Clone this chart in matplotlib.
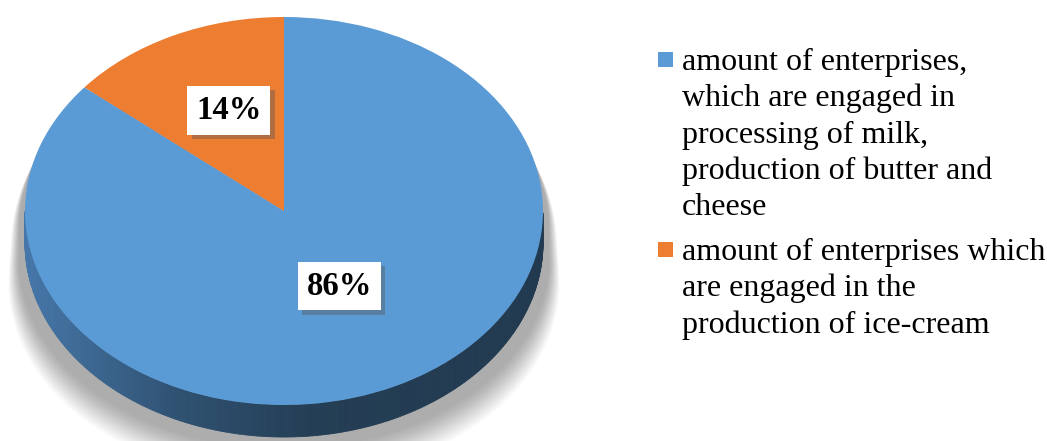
import numpy as np
import matplotlib.pyplot as plt
from matplotlib.patches import Polygon, Rectangle
from matplotlib.collections import PolyCollection
from matplotlib.colors import LinearSegmentedColormap
import matplotlib.patheffects as pe

# data
shares = [86, 14]
labels = ['amount of enterprises,\nwhich are engaged in\nprocessing of milk,\nproduction of butter and\ncheese',
          'amount of enterprises which\nare engaged in the\nproduction of ice-cream']
colors = ['#5B9BD5', '#ED7D31']
side_colors = [['#4677a9', '#2f5171', '#243e55', '#223a50'],
               ['#b5602a', '#8a4a20', '#6f3b19', '#6a3817']]

W, H = 1047, 441
fig = plt.figure(figsize=(W / 100, H / 100), dpi=100)

# top face of the pie: x -1..1 -> px 25..543, y -1..1 -> px 405..17
ax = fig.add_axes([25 / W, (H - 405) / H, 518 / W, 388 / H])
depth = 0.165  # thickness of the disc in y units


def outline(shift=0.0, grow=0.0, spread=0.0):
    # silhouette of the disc (top arc + lowered bottom arc), widened towards the bottom
    t1 = np.linspace(0, np.pi, 120)
    t2 = np.linspace(np.pi, 2 * np.pi, 120)
    x = np.concatenate([np.cos(t1), np.cos(t2)])
    y = np.concatenate([np.sin(t1), np.sin(t2) - depth])
    low = (1 - y) / 2.2
    xx = x * (1 + (spread + grow) * low)
    yy = 1 - (1 - y) * (1 + grow) - shift
    return np.column_stack([xx, yy])


# soft shadow under the disc
for k in range(22):
    ax.add_patch(Polygon(outline(shift=0.06, grow=0.0035 * k, spread=0.045),
                         closed=True, fc='black', ec='none', alpha=0.016,
                         zorder=0.2, clip_on=False))

wedges, _, autotexts = ax.pie(shares, colors=colors, startangle=90, counterclock=False,
                              autopct='%d%%', pctdistance=0.5,
                              wedgeprops=dict(linewidth=0),
                              textprops=dict(family='Liberation Serif', fontsize=23.5,
                                             fontweight='bold'))

# side wall of the front half
for w, sc in zip(wedges, side_colors):
    cmap = LinearSegmentedColormap.from_list('side', list(zip([0, 0.3, 0.55, 1], sc)))
    t = np.radians(np.linspace(w.theta1, w.theta2, 500))
    t = t[np.sin(t) <= 0]
    if len(t) < 2:
        continue
    polys, fcs = [], []
    for a, b in zip(t[:-1], t[1:]):
        xa, xb = np.cos(a), np.cos(b)
        ya, yb = np.sin(a), np.sin(b)
        polys.append([(xa, ya), (xb, yb), (xb, yb - depth), (xa, ya - depth)])
        fcs.append(cmap((xa + xb) / 4 + 0.5))
    ax.add_collection(PolyCollection(polys, facecolors=fcs, edgecolors=fcs,
                                     linewidths=0.6, zorder=0.6, clip_on=False))

for w in wedges:
    w.set_zorder(1)

for t in autotexts:
    x, y = t.get_position()
    t.set_position((x, y + 0.065))
    t.set_zorder(3)
    t.set_bbox(dict(boxstyle='square,pad=0.27', fc='white', ec='none'))
    t.get_bbox_patch().set_path_effects([
        pe.SimplePatchShadow(offset=(3, -3), shadow_rgbFace='#555555', alpha=0.4),
        pe.Normal()])

ax.set_aspect('auto')
ax.set_xlim(-1, 1)
ax.set_ylim(-1, 1)
ax.axis('off')

# legend
entry_baselines = [70, 260]
line_step = 36.3
for lab, col, base in zip(labels, colors, entry_baselines):
    fig.add_artist(Rectangle((658 / W, 1 - (base - 3) / H), 15 / W, 15 / H,
                             transform=fig.transFigure, fc=col, ec='none'))
    for i, line in enumerate(lab.split('\n')):
        fig.text(682 / W, 1 - (base + i * line_step) / H, line, ha='left', va='baseline',
                 family='Liberation Serif', fontsize=23, color='black')

fig.savefig('out.png', dpi=100)
